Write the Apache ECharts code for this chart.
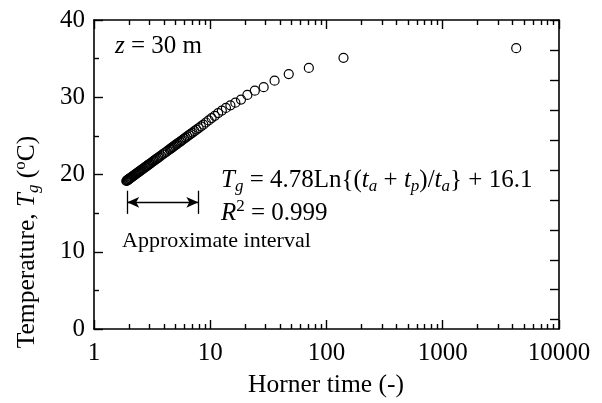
<!DOCTYPE html>
<html>
<head>
<meta charset="utf-8">
<script src="https://cdn.jsdelivr.net/npm/echarts@6/dist/echarts.min.js"></script>
<style>html,body{margin:0;padding:0;background:#fff;}#c{width:602px;height:403px;}</style>
</head>
<body>
<div id="c"></div>
<script>
// Horner time (ta+tp)/ta  and ground temperature Tg (°C) at z = 30 m
const hornerTime = [4285,
  140, 70.5, 47.33, 35.75, 28.8, 24.17, 20.86, 18.38, 16.44, 14.9,
  13.64, 12.58, 11.69, 10.93, 10.27, 9.688, 9.176, 8.722, 8.316, 7.95,
  7.619, 7.318, 7.043, 6.792, 6.56, 6.346, 6.148, 5.964, 5.793, 5.633,
  5.484, 5.344, 5.212, 5.088, 4.971, 4.861, 4.757, 4.658, 4.564, 4.475,
  4.31, 4.159, 4.022, 3.896, 3.78, 3.673, 3.574, 3.482, 3.397, 3.317,
  3.242, 3.172, 3.106, 3.044, 2.986, 2.931, 2.878, 2.829, 2.782, 2.738,
  2.675, 2.616, 2.562, 2.511, 2.463, 2.418, 2.376, 2.337, 2.299, 2.264,
  2.23, 2.198, 2.168, 2.139, 2.112, 2.086, 2.061, 2.037, 2.015, 1.993,
  1.972, 1.952, 1.933, 1.915, 1.897];
const temperature = [36.35,
  35.1, 33.8, 33.0, 32.15, 31.3, 30.85, 30.3, 29.7, 29.3, 28.95,
  28.62, 28.28, 27.95, 27.6, 27.3, 27.0, 26.73, 26.45, 26.22, 26.01,
  25.81, 25.61, 25.43, 25.26, 25.09, 24.93, 24.78, 24.64, 24.50, 24.36,
  24.23, 24.11, 23.99, 23.88, 23.77, 23.66, 23.55, 23.45, 23.36, 23.26,
  23.08, 22.91, 22.75, 22.60, 22.46, 22.32, 22.19, 22.06, 21.95, 21.83,
  21.72, 21.62, 21.52, 21.42, 21.33, 21.24, 21.15, 21.07, 20.99, 20.91,
  20.80, 20.70, 20.60, 20.50, 20.41, 20.32, 20.24, 20.16, 20.08, 20.01,
  19.93, 19.87, 19.80, 19.74, 19.67, 19.61, 19.56, 19.50, 19.45, 19.40,
  19.35, 19.30, 19.25, 19.20, 19.16];

// axis ticks
const xMajorTicks = [1, 10, 100, 1000, 10000];
const xMinorTicks = [2,3,4,5,6,7,8,9, 20,30,40,50,60,70,80,90,
  200,300,400,500,600,700,800,900, 2000,3000,4000,5000,6000,7000,8000,9000];
const yTickLabels = [0, 10, 20, 30, 40];
const rightTicks = [0,1,2,3,4,5,6,7,8,9,10];

// approximate interval annotation (data space)
const intervalBounds = [1.93, 7.9];
const arrowLevel = 16.4;
const barRange = [14.9, 17.9];

const FONT = 'Liberation Serif';
const chart = echarts.init(document.getElementById('c'), null, {renderer: 'canvas'});

const axisLineStyle = {color: '#000', width: 1.6};
const tickStyle = {color: '#000', width: 1.4};
const labelStyle = {color: '#000', fontSize: 25, fontFamily: FONT, fontStyle: 'normal', fontWeight: 'normal'};

function logAxis(pos, ticks, len, showLine, showLabel) {
  return {
    type: 'log', logBase: 10, min: 1, max: 10000, position: pos, gridIndex: 0,
    axisLine: {show: showLine, onZero: false, lineStyle: axisLineStyle},
    axisTick: {show: true, inside: true, length: len, lineStyle: tickStyle, customValues: ticks},
    axisLabel: Object.assign({show: showLabel, customValues: ticks, margin: 12,
      formatter: v => String(v)}, labelStyle),
    splitLine: {show: false}, minorTick: {show: false}
  };
}

const richStyles = {
  i: {fontStyle: 'italic', fontSize: 25, fontFamily: FONT, lineHeight: 30, fill: '#000'},
  sub: {fontStyle: 'italic', fontSize: 17, fontFamily: FONT, lineHeight: 16, verticalAlign: 'bottom', fill: '#000'},
  sup: {fontSize: 17, fontFamily: FONT, lineHeight: 28, verticalAlign: 'top', fill: '#000'}
};
function txt(text, x, y, size, extra) {
  return Object.assign({
    type: 'text', x: x, y: y, silent: true, z: 100,
    style: Object.assign({
      text: text, fontSize: size, fontFamily: FONT, fill: '#000', lineHeight: 30,
      align: 'left', verticalAlign: 'middle', rich: richStyles
    }, extra && extra.style)
  }, extra && extra.el);
}

chart.setOption({
  animation: false,
  backgroundColor: '#fff',
  textStyle: {fontFamily: FONT, color: '#000'},
  grid: {left: 94, right: 43, top: 20, bottom: 74, containLabel: false},
  xAxis: [
    logAxis('bottom', xMajorTicks, 9, true, true),
    logAxis('bottom', xMinorTicks, 5, false, false),
    logAxis('top', xMajorTicks, 9, true, false),
    logAxis('top', xMinorTicks, 5, false, false)
  ],
  yAxis: [
    {type: 'value', min: 0, max: 40, interval: 10, position: 'left',
     axisLine: {show: true, onZero: false, lineStyle: axisLineStyle},
     axisTick: {show: true, inside: true, length: 9, lineStyle: tickStyle},
     minorTick: {show: true, splitNumber: 2, length: 5, lineStyle: tickStyle},
     axisLabel: Object.assign({margin: 9, customValues: yTickLabels}, labelStyle),
     splitLine: {show: false}},
    {type: 'value', min: 0, max: 10.31, inverse: true, position: 'right',
     axisLine: {show: true, onZero: false, lineStyle: axisLineStyle},
     axisTick: {show: true, inside: true, length: 9, lineStyle: tickStyle, customValues: rightTicks},
     axisLabel: {show: false}, splitLine: {show: false}}
  ],
  series: [{
    type: 'scatter', xAxisIndex: 0, yAxisIndex: 0,
    data: hornerTime.map((h, i) => [h, temperature[i]]),
    symbol: 'circle', symbolSize: 9,
    itemStyle: {color: 'rgba(0,0,0,0)', borderColor: '#000', borderWidth: 1.2, opacity: 1},
    emphasis: {disabled: true},
    markLine: {
      silent: true, animation: false,
      lineStyle: {color: '#000', width: 1.3, type: 'solid'},
      label: {show: false},
      symbolSize: [8, 12],
      data: [
        [{coord: [intervalBounds[0], arrowLevel], symbol: 'arrow'}, {coord: [intervalBounds[1], arrowLevel], symbol: 'arrow'}],
        [{coord: [intervalBounds[0], barRange[0]], symbol: 'none'}, {coord: [intervalBounds[0], barRange[1]], symbol: 'none'}],
        [{coord: [intervalBounds[1], barRange[0]], symbol: 'none'}, {coord: [intervalBounds[1], barRange[1]], symbol: 'none'}]
      ]
    }
  }],
  graphic: [
    txt('{i|z} = 30 m', 115, 46, 25),
    txt('{i|T}{sub|g} = 4.78Ln{({i|t}{sub|a} + {i|t}{sub|p})/{i|t}{sub|a}} + 16.1', 221, 180, 25),
    txt('{i|R}{sup|2} = 0.999', 221, 213, 25),
    txt('Approximate interval', 122, 241, 22),
    txt('Horner time (-)', 326, 385, 25.5, {style: {align: 'center'}}),
    txt('Temperature, {i|T}{sub|g} ({sup|o}C)', 27, 242, 25.5, {style: {align: 'center'}, el: {rotation: Math.PI / 2}})
  ]
});
</script>
</body>
</html>
